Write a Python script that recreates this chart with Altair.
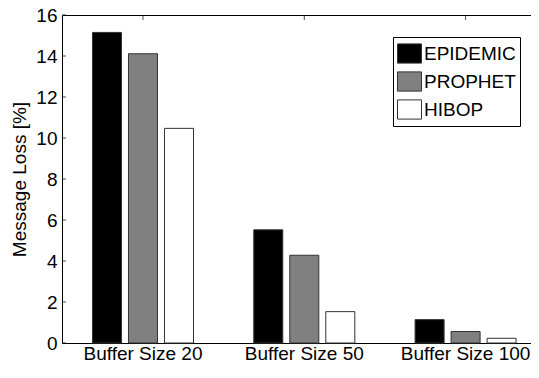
import altair as alt
import pandas as pd

groups = ["Buffer Size 20", "Buffer Size 50", "Buffer Size 100"]
series = ["EPIDEMIC", "PROPHET", "HIBOP"]
epidemic = [15.15, 5.52, 1.14]
prophet = [14.11, 4.28, 0.56]
hibop = [10.47, 1.53, 0.23]
colors = ["#000000", "#808080", "#ffffff"]
y_ticks = [0, 2, 4, 6, 8, 10, 12, 14, 16]

rows = []
for s, vals in zip(series, [epidemic, prophet, hibop]):
    for g, v in zip(groups, vals):
        rows.append({"group": g, "series": s, "value": v})
df = pd.DataFrame(rows)

FONT = "Liberation Sans"
YTITLE = "Message Loss [%]"

xscale = alt.Scale(paddingInner=0.189, paddingOuter=0.0483, align=1)

bars = alt.Chart(df).mark_bar(stroke="#333333", strokeWidth=1).encode(
    x=alt.X("group:N", sort=groups, scale=xscale,
            axis=alt.Axis(title=None, labelAngle=0, labelFontSize=19, labelFont=FONT,
                          labelColor="black", tickSize=0, labelPadding=1,
                          domainColor="black")),
    xOffset=alt.XOffset("series:N", sort=series,
                        scale=alt.Scale(paddingInner=0.194, paddingOuter=0.4137)),
    y=alt.Y("value:Q", scale=alt.Scale(domain=[0, 16], nice=False),
            axis=alt.Axis(title=YTITLE, values=y_ticks, grid=False, tickSize=0,
                          labelOverlap=False,
                          labelFontSize=19, labelFont=FONT, labelColor="black",
                          labelPadding=5, titleFontSize=19, titleFont=FONT,
                          titleFontWeight="normal", titleColor="black",
                          titlePadding=6, domainColor="black")),
    color=alt.Color("series:N", sort=series,
                    scale=alt.Scale(domain=series, range=colors),
                    legend=alt.Legend(orient="none", legendX=331, legendY=22, title=None,
                                      symbolType="M-1,-0.8H1V0.8H-1Z", symbolSize=576,
                                      symbolStrokeColor="#333333", symbolStrokeWidth=1,
                                      symbolOpacity=1, labelFontSize=19, labelFont=FONT,
                                      labelColor="black", labelOffset=2, rowPadding=3,
                                      padding=4, strokeColor="black", fillColor="white")),
)

yt = alt.Chart(pd.DataFrame({"v": y_ticks})).mark_tick(
    orient="horizontal", size=4, thickness=1, color="black"
).encode(
    x=alt.value(2),
    y=alt.Y("v:Q", title=YTITLE),
)

xt = alt.Chart(pd.DataFrame({"group": groups})).mark_tick(
    orient="vertical", size=5, thickness=1, color="black"
).encode(
    x=alt.X("group:N", sort=groups, scale=xscale,
            axis=alt.Axis(orient="top", title=None, labels=False, ticks=False,
                          domain=True, domainColor="black")),
    y=alt.value(2.5),
)

chart = alt.layer(bars, yt, xt).resolve_axis(x="independent").properties(
    width=469, height=328,
    autosize=alt.AutoSizeParams(type="none"),
    padding={"left": 54, "top": 7, "right": 0, "bottom": 19},
    background="white",
).configure_view(stroke=None)

chart.save("out.html", embed_options={"renderer": "svg", "actions": False})
